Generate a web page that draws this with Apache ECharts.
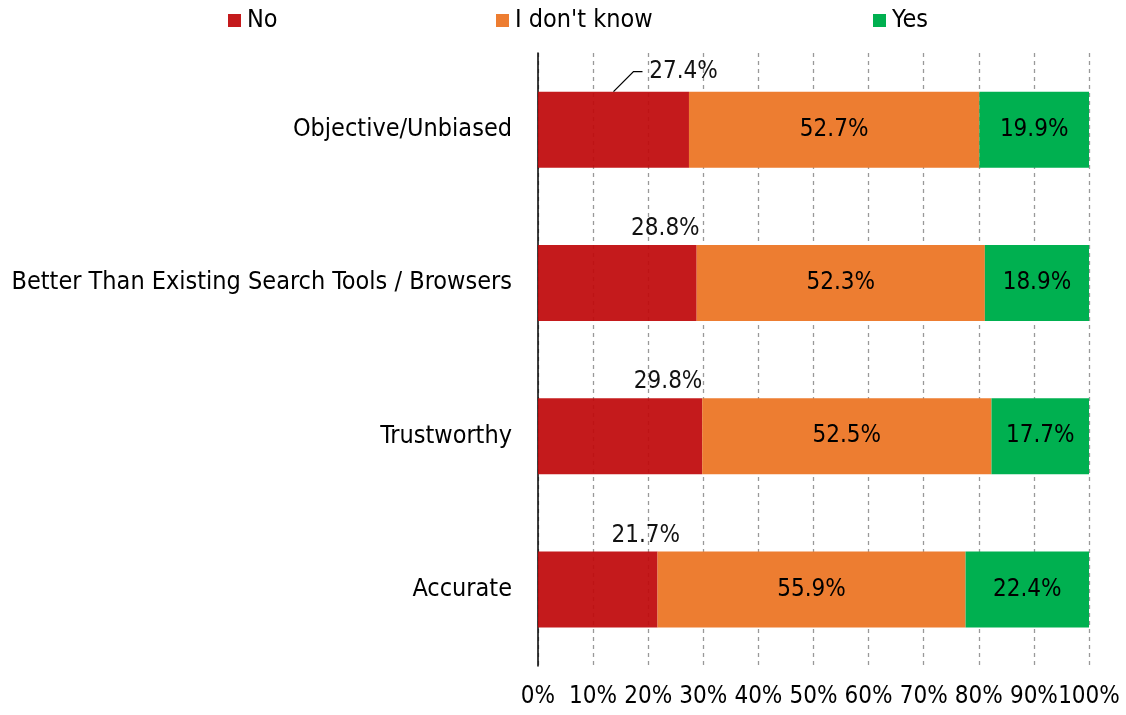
<!DOCTYPE html>
<html>
<head>
<meta charset="utf-8">
<script src="https://cdn.jsdelivr.net/npm/echarts@6/dist/echarts.min.js"></script>
<style>
    html, body { margin: 0; padding: 0; background: #fff; }
    #chart { width: 1126px; height: 715px; }
</style>
</head>
<body>
<div id="chart"></div>
<script>
    var categories = ['Objective/Unbiased', 'Better Than Existing Search Tools / Browsers', 'Trustworthy', 'Accurate']
    var noValues = [27.4, 28.8, 29.8, 21.7]
    var dontKnowValues = [52.7, 52.3, 52.5, 55.9]
    var yesValues = [19.9, 18.9, 17.7, 22.4]
    var tickLabels = ['0%', '10%', '20%', '30%', '40%', '50%', '60%', '70%', '80%', '90%', '100%']

    var font = '"DejaVu Sans Condensed", "DejaVu Sans", sans-serif'
    var fontSize = 24
    var barWidth = 76
    var chart = echarts.init(document.getElementById('chart'))

    chart.setOption({
        animation: false,
        textStyle: {fontFamily: font},
        legend: [
            {data: ['No'], left: 223, top: 3},
            {data: ["I don't know"], left: 491, top: 3},
            {data: ['Yes'], left: 868, top: 3}
        ].map(function (l) {
            l.icon = 'rect'
            l.itemWidth = 13
            l.itemHeight = 13
            l.itemGap = 6
            l.textStyle = {fontFamily: font, fontSize: 25, color: '#000', padding: [0, 0, 0, 1]}
            return l
        }),
        grid: {
            left: 538,
            right: 37,
            top: 53,
            bottom: 49
        },
        xAxis: {
            type: 'value',
            min: 0,
            max: 100,
            interval: 10,
            axisLine: {show: false},
            axisTick: {show: false},
            axisLabel: {
                margin: 19,
                fontFamily: font,
                fontSize: fontSize,
                color: '#000',
                formatter: function (v) {
                    return tickLabels[Math.round(v / 10)]
                }
            },
            splitLine: {
                show: true,
                lineStyle: {color: '#999', type: [4, 4], width: 1.3}
            }
        },
        yAxis: {
            type: 'category',
            data: categories,
            inverse: true,
            axisLine: {show: true, lineStyle: {color: '#000', width: 1.5}},
            axisTick: {show: false},
            axisLabel: {
                margin: 26,
                fontFamily: font,
                fontSize: 25,
                color: '#000'
            }
        },
        series: [
            {
                name: 'No',
                type: 'bar',
                stack: 'total',
                barWidth: barWidth,
                data: noValues,
                itemStyle: {color: '#C0090B', opacity: 0.93},
                label: {
                    show: true,
                    position: 'top',
                    distance: 4,
                    fontFamily: font,
                    fontSize: fontSize,
                    color: '#000',
                    formatter: '{c}%'
                },
                // labels are pushed to the right of the bar centre
                labelLayout: function (p) {
                    if (p.dataIndex === 0) {
                        return {dx: 70, dy: -4}
                    }
                    return {dx: 48}
                }
            },
            {
                name: "I don't know",
                type: 'bar',
                stack: 'total',
                data: dontKnowValues,
                itemStyle: {color: '#ED7D31'},
                label: {
                    show: true,
                    position: 'inside',
                    fontFamily: font,
                    fontSize: fontSize,
                    color: '#000',
                    formatter: '{c}%'
                }
            },
            {
                name: 'Yes',
                type: 'bar',
                stack: 'total',
                data: yesValues,
                itemStyle: {color: '#00B050'},
                label: {
                    show: true,
                    position: 'inside',
                    fontFamily: font,
                    fontSize: fontSize,
                    color: '#000',
                    formatter: '{c}%'
                }
            },
            {
                // leader line of the first "No" label
                type: 'custom',
                silent: true,
                z: 5,
                data: [[noValues[0], 0]],
                renderItem: function (params, api) {
                    var c = api.coord([api.value(0) / 2, api.value(1)])
                    var top = c[1] - barWidth / 2
                    return {
                        type: 'polyline',
                        shape: {
                            points: [[c[0], top], [c[0] + 20, top - 20], [c[0] + 29, top - 20]]
                        },
                        style: {stroke: '#000', lineWidth: 1.3, fill: null}
                    }
                }
            }
        ]
    })
</script>
</body>
</html>
